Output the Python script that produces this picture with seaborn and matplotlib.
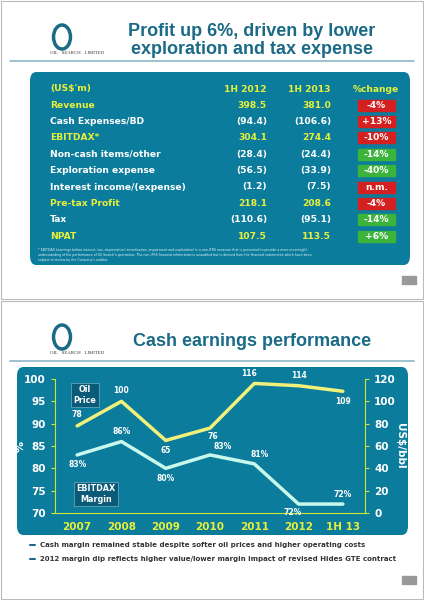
import numpy as np
import matplotlib
matplotlib.use("Agg")
import matplotlib.pyplot as plt
import seaborn as sns
from matplotlib.patches import FancyBboxPatch, Rectangle, Circle

sns.set_style("white")
plt.rcParams['font.family'] = ['DejaVu Sans']

# table data
row_labels = ["Revenue", "Cash Expenses/BD", "EBITDAX*", "Non-cash items/other",
              "Exploration expense", "Interest income/(expense)", "Pre-tax Profit", "Tax", "NPAT"]
h1_2012 = ["398.5", "(94.4)", "304.1", "(28.4)", "(56.5)", "(1.2)", "218.1", "(110.6)", "107.5"]
h1_2013 = ["381.0", "(106.6)", "274.4", "(24.4)", "(33.9)", "(7.5)", "208.6", "(95.1)", "113.5"]
pct_change = ["-4%", "+13%", "-10%", "-14%", "-40%", "n.m.", "-4%", "-14%", "+6%"]
bad_change = [True, True, True, False, False, True, True, False, False]
highlight = [True, False, True, False, False, False, True, False, True]

# chart data
years = ["2007", "2008", "2009", "2010", "2011", "2012", "1H 13"]
margin = [83, 86, 80, 83, 81, 72, 72]
oil_price = [78, 100, 65, 76, 116, 114, 109]

W, H = 424, 600
fig = plt.figure(figsize=(W / 100, H / 100), dpi=100)
fig.patch.set_facecolor("white")

def fx(x): return x / W
def fy(y): return 1 - y / H

teal = "#1b6a86"
box_col = "#0c7c9c"
yellow = "#e8f03a"

def slide_frame(y0, title_lines, title_y):
    fig.add_artist(Rectangle((fx(1), fy(y0 + 299)), fx(422), 298 / H, transform=fig.transFigure,
                             fill=False, ec="#bbbbbb", lw=0.8))
    # logo
    fig.add_artist(Circle((fx(62), fy(y0 + 37)), 12 / H, transform=fig.transFigure,
                          fill=False, ec=teal, lw=2.5))
    fig.text(fx(50), fy(y0 + 53), "OIL   SEARCH   LIMITED", fontsize=3.5, color="#333333",
             family="Liberation Serif", va="center")
    fig.add_artist(plt.Line2D([fx(10), fx(414)], [fy(y0 + 61), fy(y0 + 61)], transform=fig.transFigure,
                              color="#8fb8c8", lw=1.2))
    for t, ty in zip(title_lines, title_y):
        fig.text(fx(252), fy(y0 + ty), t, fontsize=13, color=teal, weight="bold",
                 ha="center", va="center", family="Liberation Sans")
    fig.add_artist(Rectangle((fx(402), fy(y0 + 284)), fx(14), 8 / H, transform=fig.transFigure,
                             color="#999999"))

# ---- top slide ----
slide_frame(0, ["Profit up 6%, driven by lower", "exploration and tax expense"], [32, 50])
fig.add_artist(FancyBboxPatch((fx(30), fy(265)), fx(380), 193 / H, transform=fig.transFigure,
                              boxstyle="round,pad=0,rounding_size=0.015", fc=box_col, ec="none"))
fs = 6.6
hy = 89
fig.text(fx(50), fy(hy), "(US$'m)", color=yellow, fontsize=fs, weight="bold", va="center")
fig.text(fx(267), fy(hy), "1H 2012", color=yellow, fontsize=fs, weight="bold", va="center", ha="right")
fig.text(fx(331), fy(hy), "1H 2013", color=yellow, fontsize=fs, weight="bold", va="center", ha="right")
fig.text(fx(376), fy(hy), "%change", color=yellow, fontsize=fs, weight="bold", va="center", ha="center")
for i, lab in enumerate(row_labels):
    y = 105 + i * 16.4
    c = yellow if highlight[i] else "white"
    fig.text(fx(50), fy(y), lab, color=c, fontsize=fs, weight="bold", va="center")
    fig.text(fx(267), fy(y), h1_2012[i], color=c, fontsize=fs, weight="bold", va="center", ha="right")
    fig.text(fx(331), fy(y), h1_2013[i], color=c, fontsize=fs, weight="bold", va="center", ha="right")
    fig.add_artist(Rectangle((fx(358), fy(y + 5.5)), fx(37), 11 / H, transform=fig.transFigure,
                             color="#d42020" if bad_change[i] else "#3cb43c"))
    fig.text(fx(376.5), fy(y), pct_change[i], color="white", fontsize=fs, weight="bold",
             va="center", ha="center")
foot = ("* EBITDAX (earnings before interest, tax, depreciation/ amortisation, impairment and exploration) is a non-IFRS measure that is presented to provide a more meaningful\n"
        "understanding of the performance of Oil Search's operations. The non-IFRS financial information is unaudited but is derived from the financial statements which have been\n"
        "subject to review by the Company's auditor.")
fig.text(fx(38), fy(255), foot, color="#e0f0f4", fontsize=2.3, va="center", linespacing=1.4)

# ---- bottom slide ----
slide_frame(300, ["Cash earnings performance"], [42])
fig.add_artist(FancyBboxPatch((fx(17), fy(535)), fx(391), 168 / H, transform=fig.transFigure,
                              boxstyle="round,pad=0,rounding_size=0.015", fc=box_col, ec="none"))

ax = fig.add_axes([fx(55), fy(513), fx(310), 134 / H])
ax.set_zorder(5)
ax.set_facecolor("none")
x = np.arange(len(years))
sns.lineplot(x=x, y=margin, ax=ax, color="#c8f8ec", lw=2.5)
ax.set_xlim(-0.5, 6.5)
ax.set_ylim(70, 100)
ax.set_yticks(range(70, 101, 5))
ax.set_xticks(x)
ax.set_xticklabels(years, color=yellow, fontsize=7.5, weight="bold")
ax.tick_params(axis="y", colors="white", labelsize=7.5, length=3, color="#c8e632")
ax.tick_params(axis="x", length=3, color="#c8e632")
ax.set_ylabel("%", color="white", fontsize=8, weight="bold", labelpad=-1)
for t in ax.get_yticklabels():
    t.set_fontweight("bold")
for s in ax.spines.values():
    s.set_visible(False)
ax.spines["left"].set_visible(True)
ax.spines["bottom"].set_visible(True)
ax.spines["left"].set_color("#c8e632")
ax.spines["bottom"].set_color("#c8e632")

ax2 = ax.twinx()
ax2.set_zorder(6)
ax2.set_facecolor("none")
sns.lineplot(x=x, y=oil_price, ax=ax2, color="#f0f07a", lw=2.5)
ax2.set_ylim(0, 120)
ax2.set_yticks(range(0, 121, 20))
ax2.tick_params(axis="y", colors="white", labelsize=7.5, length=3, color="#c8e632")
for t in ax2.get_yticklabels():
    t.set_fontweight("bold")
ax2.set_ylabel("US$/bbl", color="white", fontsize=7.5, weight="bold", rotation=270, labelpad=7)
for s in ax2.spines.values():
    s.set_visible(False)
ax2.spines["right"].set_visible(True)
ax2.spines["right"].set_color("#c8e632")

m_off = [(0, -7), (0, 7), (0, -7), (9, 6), (4, 7), (-4, -6), (0, 7)]
for xi, v, o in zip(x, margin, m_off):
    ax.annotate(f"{v}%", (xi, v), xytext=o, textcoords="offset points",
                ha="center", va="center", color="white", fontsize=5.5, weight="bold")
o_off = [(0, 8), (0, 8), (0, -7), (2, -6), (-4, 7), (0, 7), (0, -7)]
for xi, v, o in zip(x, oil_price, o_off):
    ax2.annotate(f"{v}", (xi, v), xytext=o, textcoords="offset points",
                 ha="center", va="center", color="white", fontsize=5.5, weight="bold")

bb = dict(boxstyle="square,pad=0.3", fc="#0a5a78", ec="#6fb0c8", lw=0.5)
fig.text(fx(85), fy(395), "Oil\nPrice", color="white", fontsize=5.8, weight="bold",
         ha="center", va="center", bbox=bb, zorder=10)
fig.text(fx(96), fy(494), "EBITDAX\nMargin", color="white", fontsize=5.8, weight="bold",
         ha="center", va="center", bbox=bb, zorder=10)

bullets = ["Cash margin remained stable despite softer oil prices and higher operating costs",
           "2012 margin dip reflects higher value/lower margin impact of revised Hides GTE contract"]
for i, b in enumerate(bullets):
    y = 545 + i * 14
    fig.add_artist(plt.Line2D([fx(30), fx(35)], [fy(y), fy(y)], transform=fig.transFigure,
                              color=teal, lw=1.5))
    fig.text(fx(40), fy(y), b, color="#333333", fontsize=5.0, weight="bold", va="center")

fig.savefig("out.png", dpi=100)
